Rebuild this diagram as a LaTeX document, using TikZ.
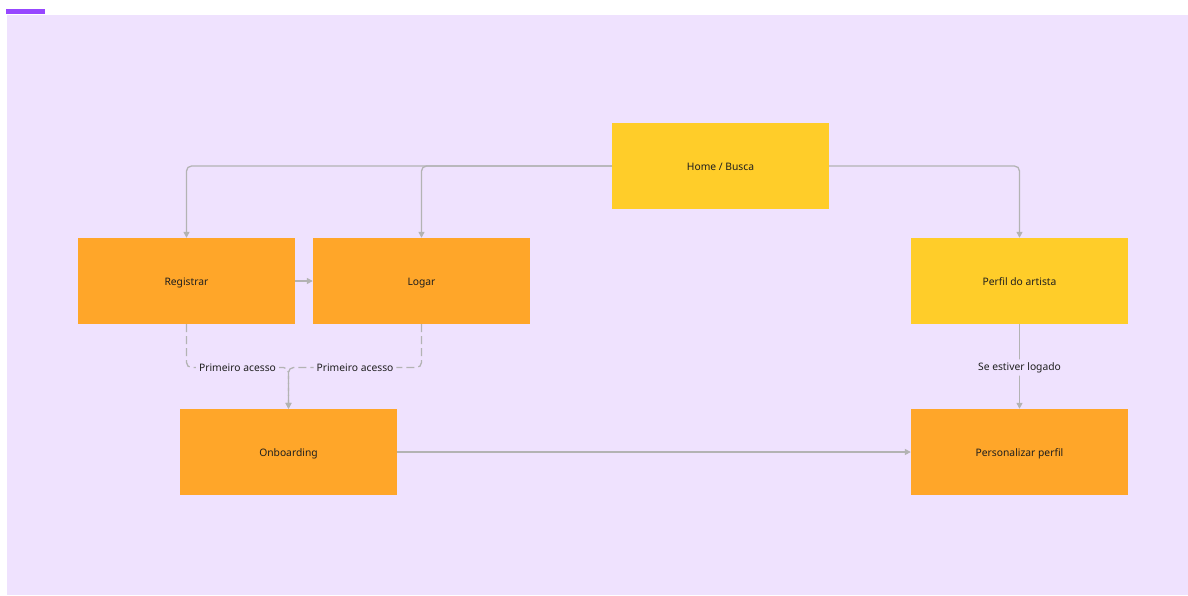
\documentclass[tikz,border=0pt]{standalone}
\usepackage{fontspec}
\setmainfont{Noto Sans}
\usetikzlibrary{arrows.meta}
\definecolor{bgsec}{HTML}{EFE2FE}
\definecolor{tagpurple}{HTML}{9747FF}
\definecolor{yel}{HTML}{FFCD29}
\definecolor{ora}{HTML}{FFA629}
\definecolor{conn}{HTML}{B3B3B3}
\definecolor{txt}{HTML}{1E1E1E}
\tikzset{
  box/.style={minimum width=217pt, minimum height=86pt, inner sep=0pt, font=\fontsize{10.3}{12}\selectfont, text=txt,
    text height=9.3pt, text depth=0pt},
  ybox/.style={box, fill=yel},
  obox/.style={box, fill=ora},
  conline/.style={draw=conn, line width=1.3pt, rounded corners=5pt, -{Triangle[length=6pt,width=6pt]}},
  dashline/.style={conline, dash pattern=on 8pt off 4pt},
  lbl/.style={fill=bgsec, inner sep=3pt, font=\fontsize{10.3}{12}\selectfont, text=txt}
}
\begin{document}
\begin{tikzpicture}[x=1pt,y=-1pt]
\useasboundingbox (0,0) rectangle (1188,595);
\fill[white] (0,0) rectangle (1188,595);
\fill[bgsec] (7,15) rectangle (1188,595);
\fill[tagpurple] (6,9) rectangle (45,13.5);

\node[ybox] (home) at (720.5,166) {Home / Busca};
\node[obox] (reg) at (186.5,281) {Registrar};
\node[obox] (log) at (421.5,281) {Logar};
\node[ybox] (perfil) at (1019.5,281) {Perfil do artista};
\node[obox] (onb) at (288.5,452) {Onboarding};
\node[obox] (pers) at (1019.5,452) {Personalizar perfil};

\draw[conline] (home.west) -| (reg.north);
\draw[conline] (home.west) -| (log.north);
\draw[conline] (home.east) -| (perfil.north);
\draw[conline] (reg.east) -- (log.west);
\draw[conline] (perfil.south) -- node[lbl, yshift=-1pt] {Se estiver logado} (pers.north);
\draw[conline] (onb.east) -- (pers.west);

\coordinate (m) at (288.5,367.5);
\draw[dashline] (reg.south) -- (reg.south |- m) -- node[lbl] {Primeiro acesso} (m) -- (onb.north);
\draw[dashline] (log.south) -- (log.south |- m) -- node[lbl] {Primeiro acesso} (m) -- (onb.north);
\end{tikzpicture}
\end{document}
